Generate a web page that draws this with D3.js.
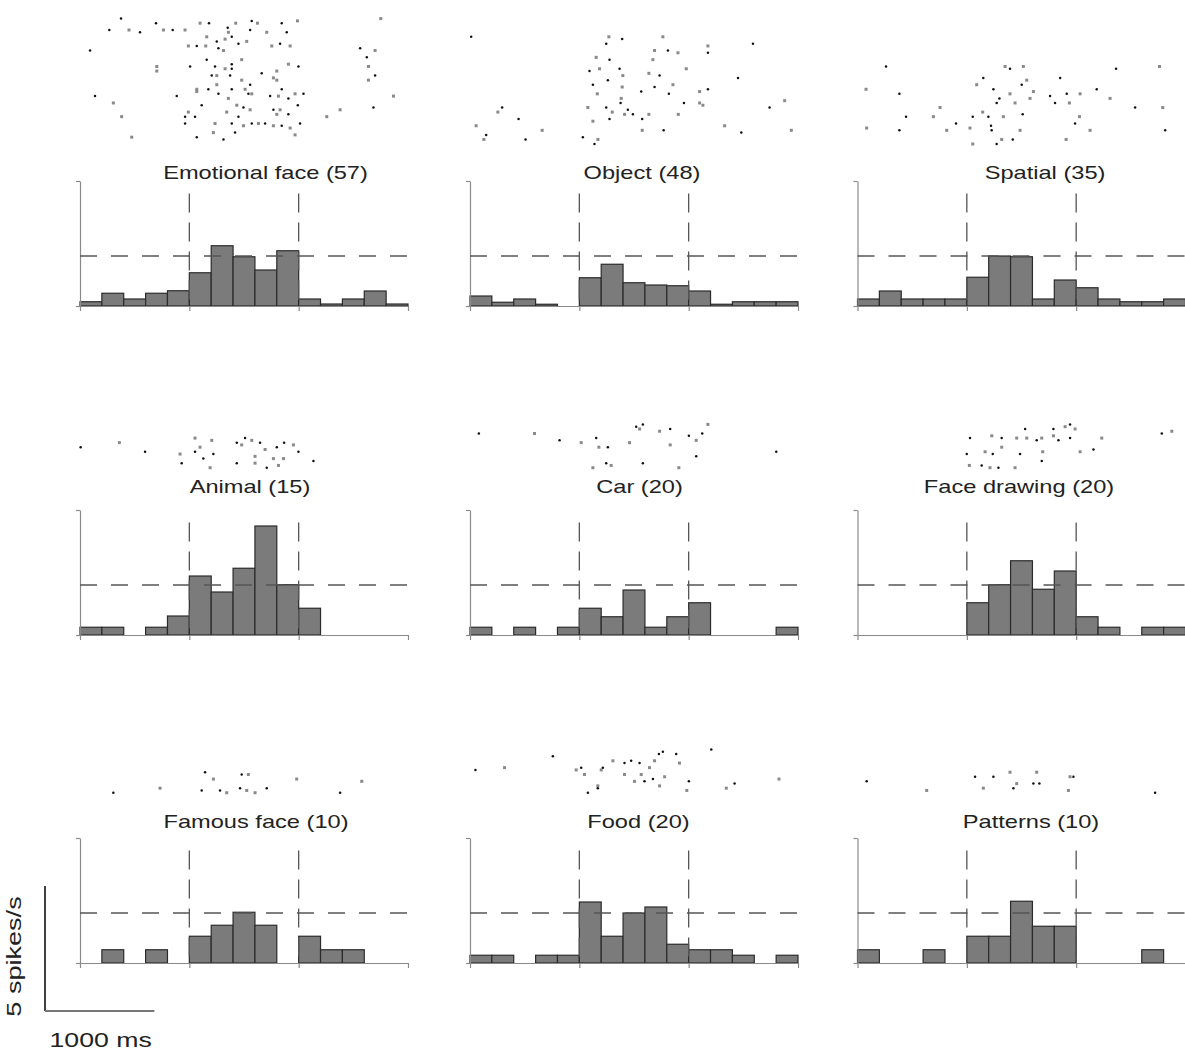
<!DOCTYPE html>
<html>
<head>
<meta charset="utf-8">
<script src="https://cdn.jsdelivr.net/npm/d3@7"></script>
<style>
  html, body { margin: 0; padding: 0; background: #fff; }
  svg { display: block; }
  text { font-family: "Liberation Sans", Arial, Helvetica, sans-serif; fill: #222; }
</style>
</head>
<body>
<svg id="chart" width="1185" height="1052"></svg>
<script>
// ---------------- DATA ----------------
const categories = ["Emotional face", "Object", "Spatial", "Animal", "Car", "Face drawing", "Famous face", "Food", "Patterns"];
const trialCounts = [57, 48, 35, 15, 20, 20, 10, 20, 10];
const binStarts = [-1000, -800, -600, -400, -200, 0, 200, 400, 600, 800, 1000, 1200, 1400, 1600, 1800];
const binWidthMs = 200;
const timeTicks = [-1000, 0, 1000, 2000];
const rateTicks = [0, 5];
const stimulusOnOff = [0, 1000];
const thresholdRate = 2;
const scaleBarMs = 1000;
const scaleBarRate = 5;

// firing rates (spikes/s) per 200 ms bin
const rateEmotional = [0.17, 0.51, 0.28, 0.51, 0.61, 1.33, 2.41, 1.97, 1.44, 2.21, 0.28, 0.08, 0.28, 0.60, 0.08];
const rateObject    = [0.40, 0.15, 0.28, 0.07, 0, 1.13, 1.67, 0.93, 0.84, 0.81, 0.60, 0.07, 0.17, 0.17, 0.17];
const rateSpatial   = [0.28, 0.60, 0.28, 0.28, 0.28, 1.15, 2.00, 1.97, 0.28, 1.04, 0.73, 0.28, 0.17, 0.17, 0.28];
const rateAnimal    = [0.31, 0.31, 0, 0.31, 0.76, 2.36, 1.72, 2.67, 4.36, 2.01, 1.07, 0, 0, 0, 0];
const rateCar       = [0.31, 0, 0.31, 0, 0.31, 1.07, 0.73, 1.80, 0.31, 0.73, 1.29, 0, 0, 0, 0.31];
const rateFaceDraw  = [0, 0, 0, 0, 0, 1.29, 2.01, 2.97, 1.83, 2.56, 0.73, 0.31, 0, 0.31, 0.31];
const rateFamous    = [0, 0.53, 0, 0.53, 0, 1.07, 1.51, 2.03, 1.51, 0, 1.07, 0.53, 0.53, 0, 0];
const rateFood      = [0.31, 0.31, 0, 0.31, 0.31, 2.44, 1.07, 2.00, 2.24, 0.75, 0.53, 0.53, 0.31, 0, 0.31];
const ratePatterns  = [0.53, 0, 0, 0.53, 0, 1.07, 1.07, 2.47, 1.47, 1.47, 0, 0, 0, 0.53, 0];

// raster spikes: [time in ms, trial index]
const spikesEmotional = [
  [-625,2],[1751,2],[-305,4],[98,4],[180,4],[424,4],[571,3],[623,4],[845,4],[989,3],
  [-732,7],[-552,7],[-451,8],[-237,7],[-152,7],[-39,7],[351,6],[357,8],[556,7],[708,8],[891,8],
  [159,10],[251,12],[327,11],[388,10],[525,12],
  [-908,16],[-9,14],[68,14],[150,14],[266,15],[312,16],[449,13],[754,14],[830,13],[922,14],[1562,15],[1699,16],
  [159,20],[479,20],[388,22],[906,22],[1623,19],
  [-298,23],[7,23],[-298,25],[235,23],[327,24],[388,24],[800,25],[998,23],[1638,23],
  [205,27],[251,27],[373,27],[479,29],[662,26],[769,28],[1699,27],
  [68,33],[174,33],[251,31],[388,33],[510,33],[556,31],[800,29],[845,33],[1638,29],
  [-863,36],[-695,39],[-115,36],[68,34],[266,35],[357,37],[540,35],[571,35],[739,36],[815,36],[906,37],[967,35],[1044,35],[1867,36],
  [113,40],[434,40],[495,41],[556,42],[769,42],[830,42],[992,40],[1379,42],[1684,41],
  [-619,45],[-39,45],[-9,43],[52,45],[342,43],[449,45],[800,44],[906,44],[1257,45],
  [-39,48],[235,48],[388,48],[495,49],[571,48],[632,48],[693,48],[769,49],[845,49],[922,50],[1013,48],
  [-527,54],[68,54],[220,52],[418,52],[967,53],[312,55]
];
const spikesObject = [
  [-989,1],[270,1],[392,2],[764,1],[246,4],[1176,5],[1588,4],[688,7],[810,7],[902,8],[1176,8],
  [154,10],[276,11],[673,11],[93,16],[185,15],[368,15],[636,17],[734,18],[978,15],[261,20],[398,18],
  [124,22],[392,23],[688,23],[856,22],[566,25],[1100,25],[1176,24],[164,26],[819,26],[383,28],[377,30],
  [1100,30],[957,30],[1130,31],[1451,19],[1878,29],[1740,32],[-745,34],[-706,32],[78,32],[246,32],
  [301,34],[444,33],[414,35],[490,35],[636,35],[575,37],[905,35],[-556,37],[-944,40],[-852,44],
  [-873,46],[-492,46],[-340,42],[32,45],[124,38],[276,37],[170,46],[139,48],[575,42],[771,42],
  [1329,40],[1481,43],[1939,42]
];
const spikesSpatial = [
  [-739,1],[350,1],[395,2],[517,1],[1365,2],[1762,1],[151,6],[548,7],[853,6],[-922,11],[-617,13],
  [90,9],[243,11],[395,13],[502,9],[609,12],[914,13],[1036,13],[1188,11],[1310,15],[298,15],[578,15],
  [761,14],[-245,19],[273,17],[441,17],[807,17],[938,17],[1539,19],[1792,19],[-556,23],[-306,23],
  [54,23],[145,21],[197,23],[334,23],[511,22],[1030,23],[-99,26],[29,28],[221,27],[-916,28],[-617,29],
  [-184,29],[227,29],[487,29],[990,26],[1127,29],[1814,29],[54,35],[273,35],[319,33],[420,33],[908,33]
];
const spikesAnimal = [
  [-994,5],[-640,3],[-405,7],[-85,8],[-70,12],[52,1],[52,7],[98,5],[128,10],[205,2],[220,8],[190,14],
  [434,3],[479,4],[510,1],[571,2],[434,12],[601,9],[647,3],[693,6],[708,14],[769,10],[800,5],[815,13],
  [867,3],[952,4],[998,7],[861,10],[1135,11],[601,12]
];
const spikesCar = [
  [-919,4],[-410,4],[-181,7],[17,8],[154,6],[179,10],[261,10],[459,8],[520,1],[551,2],[581,0],[734,3],
  [831,2],[831,9],[1002,5],[1069,7],[1124,4],[1176,0],[1069,14],[124,19],[246,17],[291,18],[581,17],
  [910,19],[1801,12]
];
const spikesFaceDraw = [
  [29,6],[228,5],[319,6],[456,6],[533,2],[548,6],[639,7],[685,6],[792,2],[792,5],[838,7],[899,1],
  [944,0],[990,2],[944,6],[1234,6],[1783,4],[1875,3],[-1,13],[167,12],[237,13],[319,10],[487,13],
  [694,12],[685,16],[1036,12],[1158,11],[23,18],[136,18],[212,19],[289,19],[441,19]
];
const spikesFamous = [
  [-695,9],[-268,7],[144,0],[220,3],[113,8],[342,9],[479,1],[540,1],[464,7],[601,9],[708,7],[982,3],
  [1379,9],[1577,4],[281,8],[525,8]
];
const spikesFood = [
  [-950,9],[-684,8],[-242,3],[-29,9],[17,8],[47,11],[78,19],[169,16],[169,17],[200,9],[215,8],[307,5],
  [413,6],[413,11],[474,5],[505,14],[551,6],[566,11],[596,14],[642,8],[673,13],[688,5],[728,2],[734,16],
  [764,1],[780,12],[886,2],[916,6],[1002,14],[983,18],[1207,0],[1344,17],[1420,15],[1826,13]
];
const spikesPatterns = [
  [-916,4],[-367,8],[75,2],[151,7],[243,2],[395,0],[426,7],[456,5],[609,5],[639,0],[664,5],[944,2],
  [975,2],[929,8],[1722,9]
];

const rateSeries = [rateEmotional, rateObject, rateSpatial, rateAnimal, rateCar, rateFaceDraw, rateFamous, rateFood, ratePatterns];
const spikeSeries = [spikesEmotional, spikesObject, spikesSpatial, spikesAnimal, spikesCar, spikesFaceDraw, spikesFamous, spikesFood, spikesPatterns];

// ---------------- LAYOUT ----------------
const colX = [80, 470, 857.5];
const rowBase = [306, 635, 963];
const rasterLift = [162, 165, 168];
const titleBase = [179, 493, 828];
const titleDx = [185.5, 172, 187.5, 170, 169.5, 161.5, 176, 168.5, 173.5];
const plotW = 328, plotH = 125, trialStep = 2.28;
const stretch = 1.27;

const svg = d3.select("#chart");

categories.forEach((cat, p) => {
  const col = p % 3, row = Math.floor(p / 3);
  const x0 = colX[col], base = rowBase[row];
  const x = d3.scaleLinear().domain([-1000, 2000]).range([x0, x0 + plotW]);
  const y = d3.scaleLinear().domain([0, 5]).range([base, base - plotH]);
  const n = trialCounts[p];
  const rBottom = base - rasterLift[row];
  const ty = d3.scaleLinear().domain([0, n]).range([rBottom - n * trialStep, rBottom]);
  const g = svg.append("g");

  // raster
  const rg = g.append("g");
  spikeSeries[p].forEach((s, i) => {
    if (i % 2 === 0) {
      rg.append("circle").attr("cx", x(s[0])).attr("cy", ty(s[1])).attr("r", 1.25).attr("fill", "#111");
    } else {
      rg.append("rect").attr("x", x(s[0]) - 1.5).attr("y", ty(s[1]) - 1.5).attr("width", 3).attr("height", 3).attr("fill", "#8a8a8a");
    }
  });

  // title
  g.append("text")
    .attr("transform", `translate(${x0 + titleDx[p]},${titleBase[row]}) scale(${stretch},1)`)
    .attr("text-anchor", "middle")
    .style("font-size", "18.6px")
    .text(`${cat} (${n})`);

  // bars
  g.append("g").selectAll("rect")
    .data(binStarts.map((t, i) => ({ t, v: rateSeries[p][i] })).filter(d => d.v > 0))
    .join("rect")
    .attr("x", d => x(d.t))
    .attr("width", d => x(d.t + binWidthMs) - x(d.t))
    .attr("y", d => y(d.v))
    .attr("height", d => y(0) - y(d.v))
    .attr("fill", "#7b7b7b")
    .attr("stroke", "#2b2b2b")
    .attr("stroke-width", 1.2);

  // axes
  const ax = g.append("g").attr("transform", `translate(0,${base})`)
    .call(d3.axisBottom(x).tickValues(timeTicks).tickSize(5).tickSizeOuter(0).tickFormat(""));
  const ay = g.append("g").attr("transform", `translate(${x0},0)`)
    .call(d3.axisLeft(y).tickValues(rateTicks).tickSize(4).tickSizeOuter(0).tickFormat(""));
  [ax, ay].forEach(a => { a.selectAll("path,line").attr("stroke", "#8a8a8a").attr("stroke-width", 1.2); });

  // dashed references
  stimulusOnOff.forEach(t => {
    g.append("line")
      .attr("x1", x(t)).attr("x2", x(t))
      .attr("y1", y(4.5)).attr("y2", y(0))
      .attr("stroke", "#555").attr("stroke-width", 1.3)
      .attr("stroke-dasharray", "19,10");
  });
  g.append("line")
    .attr("x1", x(-1000)).attr("x2", x(2000))
    .attr("y1", y(thresholdRate)).attr("y2", y(thresholdRate))
    .attr("stroke", "#555").attr("stroke-width", 1.3)
    .attr("stroke-dasharray", "17,14");
});

// scale bar
const sbX = d3.scaleLinear().domain([0, 3000]).range([45, 45 + plotW]);
const sbY = d3.scaleLinear().domain([0, 5]).range([1011, 1011 - plotH]);
svg.append("line").attr("x1", sbX(0)).attr("x2", sbX(0)).attr("y1", sbY(0)).attr("y2", sbY(scaleBarRate))
  .attr("stroke", "#111").attr("stroke-width", 1.6);
svg.append("line").attr("x1", sbX(0)).attr("x2", sbX(scaleBarMs)).attr("y1", sbY(0)).attr("y2", sbY(0))
  .attr("stroke", "#777").attr("stroke-width", 1.8);
svg.append("text")
  .attr("transform", `translate(21,${(sbY(0) + sbY(scaleBarRate)) / 2 + 8}) rotate(-90) scale(1.29,1)`)
  .attr("text-anchor", "middle")
  .style("font-size", "21px")
  .text(`${scaleBarRate} spikes/s`);
svg.append("text")
  .attr("transform", `translate(${(sbX(0) + sbX(scaleBarMs)) / 2 + 1},1047) scale(${stretch},1)`)
  .attr("text-anchor", "middle")
  .style("font-size", "21px")
  .text(`${scaleBarMs} ms`);
</script>
</body>
</html>
